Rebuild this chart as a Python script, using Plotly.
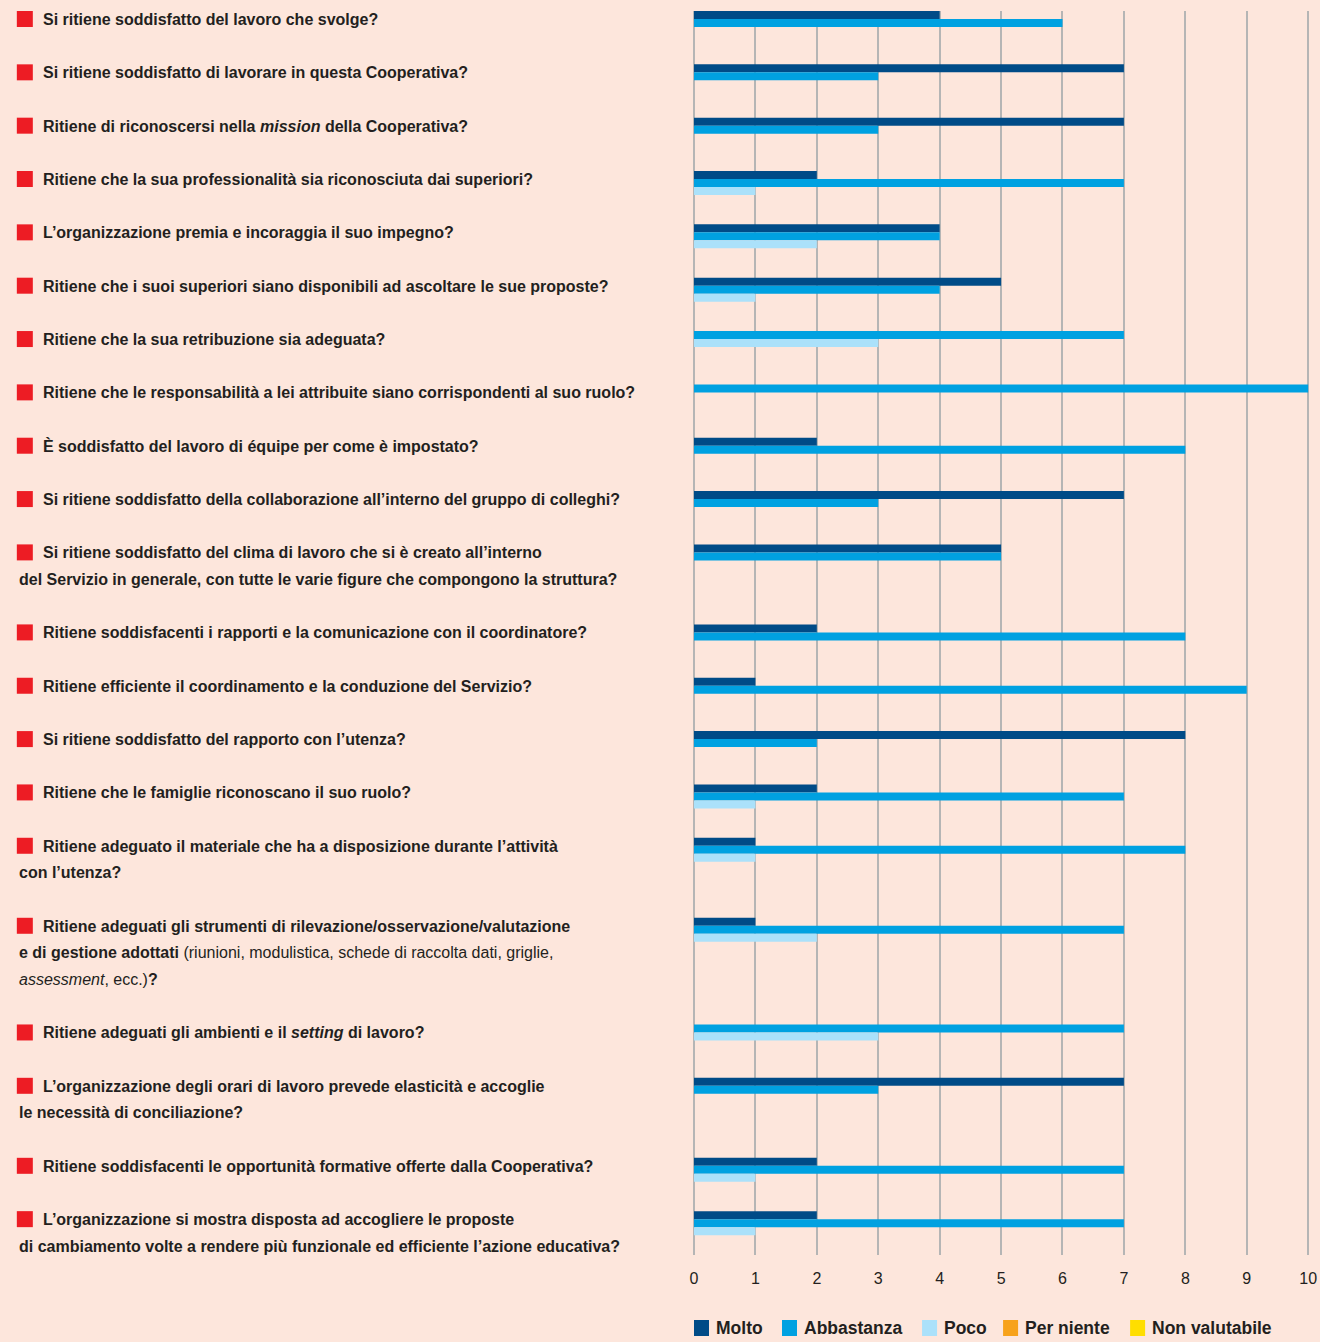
import plotly.graph_objects as go

# ---------------- data ----------------
questions = [
    ["Si ritiene soddisfatto del lavoro che svolge?"],
    ["Si ritiene soddisfatto di lavorare in questa Cooperativa?"],
    ["Ritiene di riconoscersi nella <i>mission</i> della Cooperativa?"],
    ["Ritiene che la sua professionalità sia riconosciuta dai superiori?"],
    ["L’organizzazione premia e incoraggia il suo impegno?"],
    ["Ritiene che i suoi superiori siano disponibili ad ascoltare le sue proposte?"],
    ["Ritiene che la sua retribuzione sia adeguata?"],
    ["Ritiene che le responsabilità a lei attribuite siano corrispondenti al suo ruolo?"],
    ["È soddisfatto del lavoro di équipe per come è impostato?"],
    ["Si ritiene soddisfatto della collaborazione all’interno del gruppo di colleghi?"],
    ["Si ritiene soddisfatto del clima di lavoro che si è creato all’interno",
     "del Servizio in generale, con tutte le varie figure che compongono la struttura?"],
    ["Ritiene soddisfacenti i rapporti e la comunicazione con il coordinatore?"],
    ["Ritiene efficiente il coordinamento e la conduzione del Servizio?"],
    ["Si ritiene soddisfatto del rapporto con l’utenza?"],
    ["Ritiene che le famiglie riconoscano il suo ruolo?"],
    ["Ritiene adeguato il materiale che ha a disposizione durante l’attività",
     "con l’utenza?"],
    ["Ritiene adeguati gli strumenti di rilevazione/osservazione/valutazione",
     "<b>e di gestione adottati</b> (riunioni, modulistica, schede di raccolta dati, griglie,",
     "<i>assessment</i>, ecc.)<b>?</b>"],
    ["Ritiene adeguati gli ambienti e il <i>setting</i> di lavoro?"],
    ["L’organizzazione degli orari di lavoro prevede elasticità e accoglie",
     "le necessità di conciliazione?"],
    ["Ritiene soddisfacenti le opportunità formative offerte dalla Cooperativa?"],
    ["L’organizzazione si mostra disposta ad accogliere le proposte",
     "di cambiamento volte a rendere più funzionale ed efficiente l’azione educativa?"],
]

series_names = ["Molto", "Abbastanza", "Poco", "Per niente", "Non valutabile"]
molto =          [4, 7, 7, 2, 4, 5, 0, 0, 2, 7, 5, 2, 1, 8, 2, 1, 1, 0, 7, 2, 2]
abbastanza =     [6, 3, 3, 7, 4, 4, 7, 10, 8, 3, 5, 8, 9, 2, 7, 8, 7, 7, 3, 7, 7]
poco =           [0, 0, 0, 1, 2, 1, 3, 0, 0, 0, 0, 0, 0, 0, 1, 1, 2, 3, 0, 1, 1]
per_niente =     [0] * 21
non_valutabile = [0] * 21
x_ticks = list(range(0, 11))

# ---------------- styles / layout ----------------
W, H = 1320, 1342
X_MAX = 10.03                      # tiny headroom so the gridline at 10 stays visible
PLOT_L, PLOT_T, PLOT_B = 694, 11, 1255
PLOT_R = PLOT_L + 61.4 * X_MAX     # 10 lands at x = 1308 px
colors = ["#004B87", "#00A1E1", "#ABE1FA", "#F7A21B", "#FFDE00"]
BG = "#FDE6DC"
TXT = "#231F20"
FONT = "Liberation Sans, Arial, sans-serif"
BAR_H = 8
LINE_H = 26.67
LEGEND_X = [694, 782, 922, 1003, 1130]   # left edge of each legend swatch (px)
LEGEND_Y = 1328                          # legend row centre (px)

def px_x(px):
    return (px - PLOT_L) / (PLOT_R - PLOT_L)

def px_y(py):
    return (PLOT_B - py) / (PLOT_B - PLOT_T)

# group top position (in pixel-like y units) from number of label lines
tops = []
cur = PLOT_T
for q in questions:
    tops.append(cur)
    cur += LINE_H * (len(q) + 1)

all_series = [molto, abbastanza, poco, per_niente, non_valutabile]
# only non-zero bars take a slot, stacked one below the other
offsets = [[0] * len(questions) for _ in all_series]
for i in range(len(questions)):
    slot = 0
    for s, vals in enumerate(all_series):
        offsets[s][i] = slot * BAR_H
        if vals[i] > 0:
            slot += 1

fig = go.Figure()
for s, (name, vals) in enumerate(zip(series_names, all_series)):
    fig.add_trace(go.Bar(
        x=vals, y=tops, orientation="h", name=name,
        width=BAR_H, offset=offsets[s],
        marker=dict(color=colors[s], line=dict(width=0)),
        hoverinfo="x+name", showlegend=False,
    ))

annotations = []
shapes = []
for q, top in zip(questions, tops):
    shapes.append(dict(
        type="rect", xref="paper", yref="y",
        x0=px_x(17), x1=px_x(33), y0=top, y1=top + 16,
        fillcolor="#ED1C24", line=dict(width=0), layer="above",
    ))
    for k, line in enumerate(q):
        txt = line if "<b>" in line else "<b>" + line + "</b>"
        annotations.append(dict(
            text=txt, xref="paper", yref="y",
            x=px_x(41 if k == 0 else 17), y=top + 8.5 + k * LINE_H,
            xanchor="left", yanchor="middle", showarrow=False,
            font=dict(family=FONT, size=16, color=TXT),
        ))

# legend row (swatch + label per series)
for name, col, lx in zip(series_names, colors, LEGEND_X):
    shapes.append(dict(
        type="rect", xref="paper", yref="paper",
        x0=px_x(lx), x1=px_x(lx + 15), y0=px_y(LEGEND_Y + 8), y1=px_y(LEGEND_Y - 8),
        fillcolor=col, line=dict(width=0), layer="above",
    ))
    annotations.append(dict(
        text="<b>" + name + "</b>", xref="paper", yref="paper",
        x=px_x(lx + 20), y=px_y(LEGEND_Y), xanchor="left", yanchor="middle",
        showarrow=False, font=dict(family=FONT, size=17.5, color=TXT),
    ))

fig.update_layout(
    width=W, height=H, autosize=False,
    margin=dict(l=PLOT_L, r=W - PLOT_R, t=PLOT_T, b=H - PLOT_B, pad=0, autoexpand=False),
    paper_bgcolor=BG, plot_bgcolor=BG,
    barmode="overlay",
    showlegend=False,
    xaxis=dict(
        range=[0, X_MAX], tickvals=x_ticks, ticktext=[str(t) for t in x_ticks],
        showgrid=True, gridcolor="#B5B5B5", gridwidth=2,
        zeroline=True, zerolinecolor="#B5B5B5", zerolinewidth=2,
        showline=False, ticks="", ticklabelstandoff=12, automargin=False,
        tickfont=dict(family=FONT, size=16, color=TXT),
    ),
    yaxis=dict(
        range=[PLOT_B, PLOT_T], showgrid=False, zeroline=False, automargin=False,
        showticklabels=False, showline=False, ticks="",
    ),
    annotations=annotations,
    shapes=shapes,
)

fig.write_html(
    "out.html",
    config={"displayModeBar": False},
    post_script="document.body.style.margin='0';document.body.style.overflow='hidden';",
)
